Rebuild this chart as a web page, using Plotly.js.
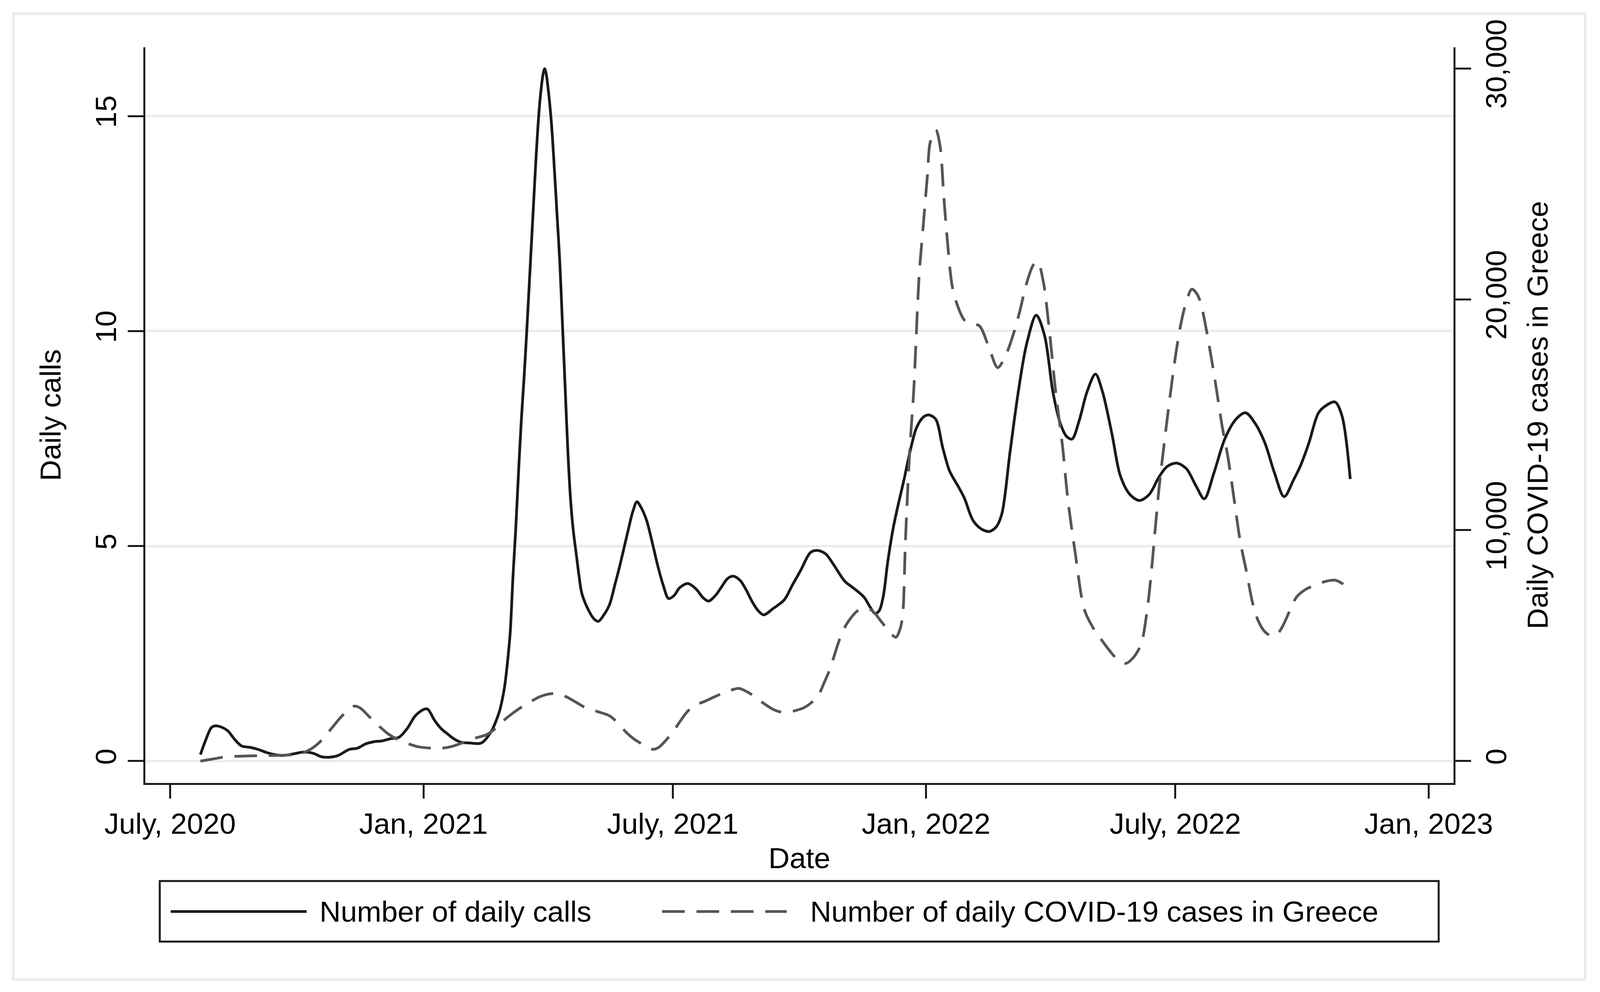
<!DOCTYPE html>
<html>
<head>
<meta charset="utf-8">
<script src="https://cdn.plot.ly/plotly-3.0.1.min.js"></script>
<style>html,body{margin:0;padding:0;background:#ffffff;}</style>
</head>
<body>
<div id="chart" style="width:4102px;height:2539px;"></div>
<script>
// ---- data ----
const callDates = [
 '2020-07-23','2020-07-27','2020-07-31','2020-08-03','2020-08-08','2020-08-12','2020-08-17','2020-08-22','2020-08-28',
 '2020-09-03','2020-09-09','2020-09-15','2020-09-21','2020-09-29','2020-10-06','2020-10-13','2020-10-19','2020-10-25',
 '2020-10-31','2020-11-08','2020-11-14','2020-11-20','2020-11-26','2020-12-02','2020-12-08','2020-12-14','2020-12-20',
 '2020-12-26','2021-01-01','2021-01-04','2021-01-09','2021-01-14','2021-01-18','2021-01-23','2021-01-28','2021-02-04',
 '2021-02-12','2021-02-19','2021-02-25','2021-02-27','2021-03-01','2021-03-03','2021-03-05','2021-03-07','2021-03-09',
 '2021-03-11','2021-03-13','2021-03-15','2021-03-17','2021-03-19','2021-03-21','2021-03-23','2021-03-25','2021-03-27',
 '2021-03-29','2021-03-30','2021-03-31','2021-04-02','2021-04-04','2021-04-06','2021-04-08','2021-04-10','2021-04-12',
 '2021-04-14','2021-04-16','2021-04-18','2021-04-20','2021-04-22','2021-04-24','2021-04-26','2021-05-01','2021-05-05',
 '2021-05-08','2021-05-12','2021-05-16','2021-05-20','2021-05-24','2021-05-30','2021-06-02','2021-06-05','2021-06-08',
 '2021-06-12','2021-06-16','2021-06-20','2021-06-24','2021-06-28','2021-07-02','2021-07-06','2021-07-12','2021-07-18',
 '2021-07-23','2021-07-27','2021-08-01','2021-08-05','2021-08-10','2021-08-14','2021-08-19','2021-08-23','2021-08-28',
 '2021-09-01','2021-09-05','2021-09-12','2021-09-20','2021-09-26','2021-10-02','2021-10-09','2021-10-14','2021-10-20',
 '2021-10-26','2021-11-03','2021-11-09','2021-11-17','2021-11-21','2021-11-25','2021-11-28','2021-12-01','2021-12-04',
 '2021-12-08','2021-12-12','2021-12-16','2021-12-20','2021-12-25','2021-12-30','2022-01-03','2022-01-08','2022-01-13',
 '2022-01-18','2022-01-25','2022-01-29','2022-02-04','2022-02-10','2022-02-16','2022-02-21','2022-02-25','2022-03-03',
 '2022-03-09','2022-03-15','2022-03-22','2022-03-28','2022-04-03','2022-04-08','2022-04-13','2022-04-17','2022-04-22',
 '2022-04-28','2022-05-04','2022-05-09','2022-05-16','2022-05-22','2022-05-29','2022-06-05','2022-06-12','2022-06-19',
 '2022-06-25','2022-07-02','2022-07-09','2022-07-16','2022-07-22','2022-07-29','2022-08-06','2022-08-14','2022-08-21',
 '2022-08-28','2022-09-04','2022-09-11','2022-09-18','2022-09-25','2022-09-30','2022-10-06','2022-10-13','2022-10-19',
 '2022-10-25','2022-10-30','2022-11-05'
];
const callValues = [
 0.15,0.5,0.78,0.82,0.78,0.7,0.5,0.35,0.32,
 0.27,0.2,0.15,0.13,0.17,0.21,0.18,0.1,0.09,
 0.13,0.27,0.3,0.4,0.45,0.47,0.52,0.55,0.75,
 1.05,1.2,1.21,0.95,0.75,0.645,0.52,0.44,0.42,
 0.42,0.68,1.14,1.4,1.75,2.3,3.0,4.3,5.4,
 6.7,7.9,8.9,10.0,11.2,12.4,13.6,14.7,15.5,
 16.0,16.1,16.0,15.5,14.8,13.8,12.7,11.6,10.1,
 8.6,7.1,6.0,5.3,4.8,4.3,3.9,3.5,3.3,
 3.25,3.4,3.63,4.1,4.6,5.42,5.8,6.03,5.9,
 5.6,5.1,4.56,4.1,3.78,3.85,4.03,4.13,4.0,
 3.8,3.72,3.85,4.03,4.25,4.3,4.2,4.0,3.69,
 3.5,3.4,3.55,3.75,4.1,4.44,4.85,4.9,4.82,
 4.56,4.18,4.03,3.81,3.6,3.43,3.5,3.85,4.6,
 5.4,6.0,6.55,7.15,7.75,8.0,8.05,7.95,7.3,
 6.75,6.35,6.1,5.6,5.4,5.34,5.45,5.75,7.2,
 8.6,9.7,10.37,9.9,8.6,7.9,7.55,7.49,7.9,
 8.6,9.0,8.6,7.6,6.64,6.2,6.06,6.2,6.6,
 6.85,6.93,6.8,6.4,6.1,6.7,7.5,7.95,8.1,
 7.85,7.4,6.7,6.15,6.55,6.88,7.4,8.1,8.28,
 8.35,8.03,6.56
];
const caseDates = [
 '2020-07-23','2020-07-31','2020-08-10','2020-08-25','2020-09-09','2020-09-24','2020-10-04','2020-10-12','2020-10-19',
 '2020-10-26','2020-11-02','2020-11-08','2020-11-12','2020-11-16','2020-11-23','2020-11-30','2020-12-07','2020-12-14',
 '2020-12-22','2020-12-29','2021-01-07','2021-01-14','2021-01-22','2021-01-31','2021-02-08','2021-02-16','2021-02-23',
 '2021-03-01','2021-03-07','2021-03-13','2021-03-20','2021-03-26','2021-04-01','2021-04-08','2021-04-15','2021-04-22',
 '2021-04-28','2021-05-07','2021-05-16','2021-05-23','2021-05-28','2021-06-03','2021-06-08','2021-06-13','2021-06-17',
 '2021-06-21','2021-06-25','2021-07-01','2021-07-06','2021-07-11','2021-07-16','2021-07-24','2021-07-31','2021-08-09',
 '2021-08-18','2021-08-24','2021-08-30','2021-09-05','2021-09-12','2021-09-17','2021-09-22','2021-09-29','2021-10-05',
 '2021-10-11','2021-10-15','2021-10-19','2021-10-23','2021-10-27','2021-10-30','2021-11-03','2021-11-07','2021-11-11',
 '2021-11-15','2021-11-22','2021-11-30','2021-12-06','2021-12-10','2021-12-13','2021-12-15','2021-12-17','2021-12-20',
 '2021-12-23','2021-12-27','2021-12-30','2022-01-02','2022-01-04','2022-01-08','2022-01-11','2022-01-14','2022-01-17',
 '2022-01-20','2022-01-24','2022-01-29','2022-02-04','2022-02-09','2022-02-16','2022-02-22','2022-02-28','2022-03-06',
 '2022-03-10','2022-03-15','2022-03-20','2022-03-23','2022-03-27','2022-03-31','2022-04-05','2022-04-10','2022-04-14',
 '2022-04-19','2022-04-26','2022-05-02','2022-05-07','2022-05-14','2022-05-20','2022-05-26','2022-05-31','2022-06-06',
 '2022-06-10','2022-06-13','2022-06-16','2022-06-19','2022-06-23','2022-06-27','2022-07-01','2022-07-05','2022-07-09',
 '2022-07-13','2022-07-17','2022-07-20','2022-07-26','2022-07-31','2022-08-04','2022-08-08','2022-08-13','2022-08-17',
 '2022-08-22','2022-08-26','2022-08-30','2022-09-04','2022-09-09','2022-09-13','2022-09-17','2022-09-22','2022-09-27',
 '2022-10-04','2022-10-11','2022-10-18','2022-10-25','2022-10-30','2022-11-05'
];
const caseValues = [
 0,80,180,220,240,260,330,550,900,
 1400,1900,2250,2380,2300,1900,1500,1150,920,
 730,610,560,555,640,830,1000,1150,1450,
 1795,2080,2330,2580,2775,2890,2927,2775,2540,
 2335,2150,1963,1600,1257,950,760,580,508,
 600,829,1250,1690,2100,2386,2580,2775,3000,
 3147,3000,2775,2500,2235,2130,2115,2200,2335,
 2600,2876,3400,3960,4700,5245,5800,6168,6450,
 6600,6548,6000,5550,5364,5700,6330,9560,13350,
 16040,21090,23250,25400,26800,27330,26700,24330,22165,
 20560,19695,19090,18950,18830,17850,17040,17600,18610,
 19475,20700,21500,21625,20800,18930,16040,13670,11300,
 9137,6548,5800,5364,4800,4400,4230,4450,5042,
 6300,7834,9800,11725,13800,15720,17500,18930,19900,
 20440,20200,19695,17850,16040,14500,13230,11200,9560,
 8100,6870,6100,5600,5415,5500,5850,6500,7100,
 7450,7620,7780,7834,7700,7411
];
const seriesNames = ['Number of daily calls', 'Number of daily COVID-19 cases in Greece'];
const xTickDates = ['2020-07-01','2021-01-01','2021-07-01','2022-01-01','2022-07-01','2023-01-01'];
const xTickLabels = ['July, 2020','Jan, 2021','July, 2021','Jan, 2022','July, 2022','Jan, 2023'];
const callTicks = [0, 5, 10, 15];
const caseTicks = [0, 10000, 20000, 30000];
const caseTickLabels = ['0', '10,000', '20,000', '30,000'];
const xRange = ['2020-06-13', '2023-01-19'];
const callRange = [-0.509, 16.6];
const caseRange = [-948, 30914];

// ---- styling ----
const FONT = 'Liberation Sans, Arial, Helvetica, sans-serif';
const FS = 75;
const SOLID = '#1a1a1a';
const DASHC = '#555555';
const DASH = '58px,30px';

const traces = [
  {
    x: callDates, y: callValues, name: seriesNames[0], type: 'scatter', mode: 'lines',
    line: {color: SOLID, width: 7, shape: 'spline', smoothing: 0.9},
    yaxis: 'y', showlegend: false, hoverinfo: 'skip'
  },
  {
    x: caseDates, y: caseValues, name: seriesNames[1], type: 'scatter', mode: 'lines',
    line: {color: DASHC, width: 7, dash: DASH, shape: 'spline', smoothing: 0.9},
    yaxis: 'y2', showlegend: false, hoverinfo: 'skip'
  }
];

const axisCommon = {
  showline: true, linecolor: '#1a1a1a', linewidth: 5,
  ticks: 'outside', tickcolor: '#1a1a1a', tickwidth: 5,
  tickfont: {family: FONT, size: FS, color: '#000'},
  automargin: false
};

// paper coords derived from reference pixel layout (plot area 372..3721 x 121..2004)
const L = 372, R = 3721, T = 121, B = 2004;
const px = v => (v - L) / (R - L);
const py = v => (B - v) / (B - T);

const legendY = py(2333);
const shapes = [
  {type: 'rect', xref: 'paper', yref: 'paper', x0: px(34), x1: px(4058), y0: py(2507), y1: py(35),
   line: {color: '#E3EDF0', width: 6}, fillcolor: 'rgba(0,0,0,0)', layer: 'below'},
  {type: 'rect', xref: 'paper', yref: 'paper', x0: px(409), x1: px(3683), y0: py(2410), y1: py(2255),
   line: {color: '#1a1a1a', width: 5}, fillcolor: 'rgba(0,0,0,0)'},
  {type: 'line', xref: 'paper', yref: 'paper', x0: px(437), x1: px(785), y0: legendY, y1: legendY,
   line: {color: SOLID, width: 7}},
  {type: 'line', xref: 'paper', yref: 'paper', x0: px(1695), x1: px(2014), y0: legendY, y1: legendY,
   line: {color: DASHC, width: 7, dash: DASH}}
];
const annotations = [
  {xref: 'paper', yref: 'paper', x: px(816), y: legendY, xanchor: 'left', yanchor: 'middle',
   text: seriesNames[0], showarrow: false, font: {family: FONT, size: FS, color: '#000'}},
  {xref: 'paper', yref: 'paper', x: px(2072), y: legendY, xanchor: 'left', yanchor: 'middle',
   text: seriesNames[1], showarrow: false, font: {family: FONT, size: FS, color: '#000'}}
];

const layout = {
  width: 4102, height: 2539, autosize: false,
  paper_bgcolor: '#ffffff', plot_bgcolor: '#ffffff',
  margin: {l: L, r: 4102 - R, t: T, b: 2539 - B, pad: 0},
  showlegend: false,
  font: {family: FONT, size: FS, color: '#000'},
  xaxis: Object.assign({}, axisCommon, {
    type: 'date', range: xRange,
    tickmode: 'array', tickvals: xTickDates, ticktext: xTickLabels,
    ticklen: 35, showgrid: false, zeroline: false,
    title: {text: 'Date', font: {family: FONT, size: FS, color: '#000'}, standoff: 22}
  }),
  yaxis: Object.assign({}, axisCommon, {
    range: callRange, tickmode: 'array', tickvals: callTicks,
    ticklen: 40, tickangle: -90,
    showgrid: true, gridcolor: '#E4EEF0', gridwidth: 6, zeroline: false,
    title: {text: 'Daily calls', font: {family: FONT, size: FS, color: '#000'}, standoff: 50}
  }),
  yaxis2: Object.assign({}, axisCommon, {
    range: caseRange, overlaying: 'y', side: 'right', anchor: 'x',
    tickmode: 'array', tickvals: caseTicks, ticktext: caseTickLabels,
    ticklen: 40, tickangle: -90,
    showgrid: false, zeroline: false,
    title: {text: 'Daily COVID-19 cases in Greece', font: {family: FONT, size: FS, color: '#000'}, standoff: 40}
  }),
  shapes: shapes,
  annotations: annotations
};

Plotly.newPlot('chart', traces, layout, {staticPlot: true, displayModeBar: false});
</script>
</body>
</html>
